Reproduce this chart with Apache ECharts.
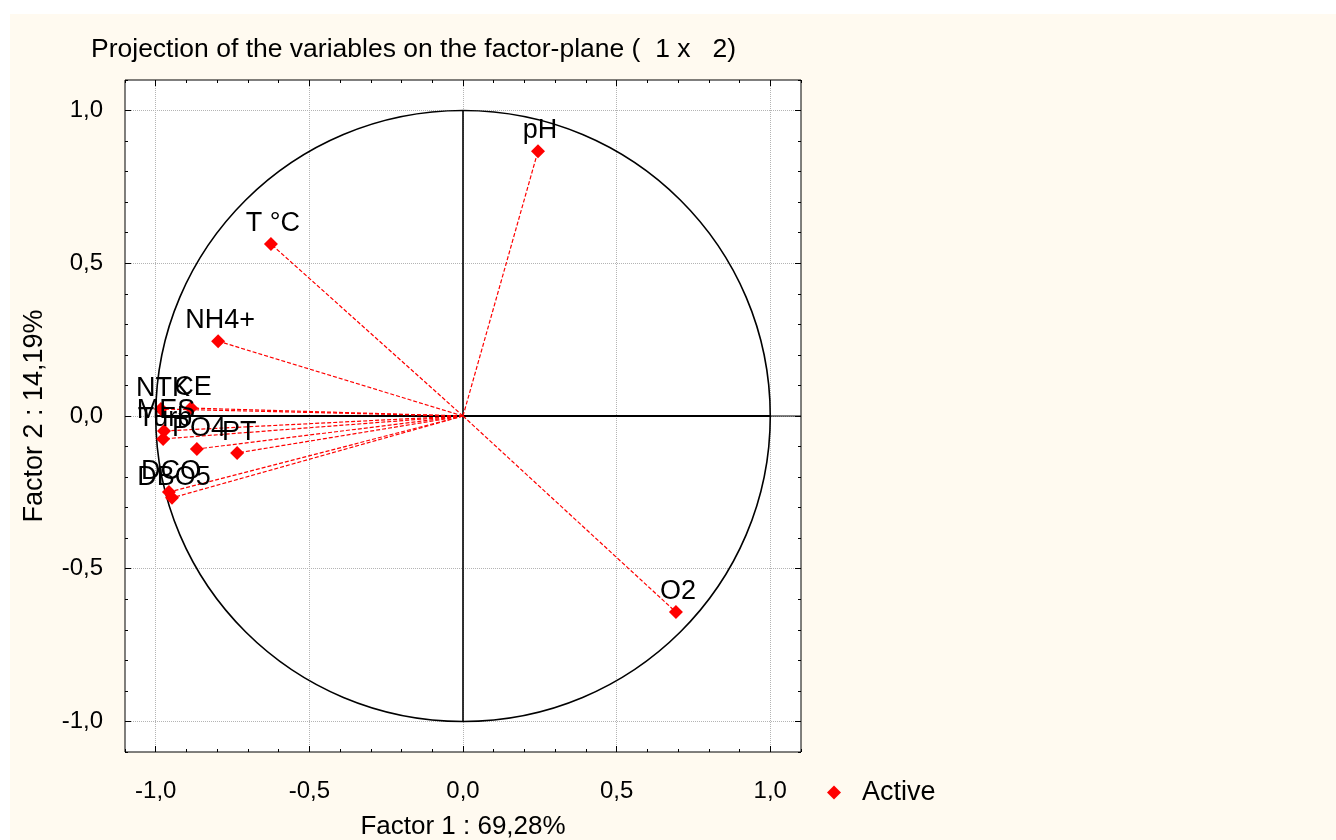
<!DOCTYPE html>
<html>
<head>
<meta charset="utf-8">
<script src="https://cdn.jsdelivr.net/npm/echarts@6/dist/echarts.min.js"></script>
<style>
  html, body { margin: 0; padding: 0; background: #ffffff; }
  #bg { position: absolute; left: 10px; top: 14px; width: 1326px; height: 826px; background: #fffaf0; }
  #chart { position: absolute; left: 0; top: 0; width: 1336px; height: 840px; }
</style>
</head>
<body>
<div id="bg"></div>
<div id="chart"></div>
<script>
// ---- data ----
const variables = ['pH', 'T °C', 'NH4+', 'NTK', 'CE', 'MES', 'Turb', 'PO4', 'PT', 'DCO', 'DBO5', 'O2'];
const factor1 =   [0.244, -0.625, -0.797, -0.983, -0.885, -0.973, -0.976, -0.866, -0.735, -0.957, -0.947, 0.693];
const factor2 =   [0.867,  0.563,  0.245,  0.023,  0.026, -0.049, -0.075, -0.108, -0.121, -0.249, -0.268, -0.642];
const majorTicks = [-1.0, -0.5, 0.0, 0.5, 1.0];
const axisMin = -1.1, axisMax = 1.1, minorStep = 0.1;
const titleText = 'Projection of the variables on the factor-plane (  1 x   2)';
const xName = 'Factor 1 : 69,28%';
const yName = 'Factor 2 : 14,19%';
const legendName = 'Active';

const FONT = 'Arial, "Liberation Sans", sans-serif';
const fmt = v => v.toFixed(1).replace('.', ',');

function minorAxis(pos) {
  return {
    type: 'value', position: pos, min: axisMin, max: axisMax, interval: minorStep,
    axisLine: { show: false, onZero: false },
    axisTick: { show: true, inside: true, length: 3, lineStyle: { color: '#000', width: 1 } },
    axisLabel: { show: false },
    splitLine: { show: false }
  };
}
function majorAxis(pos, withLabels, extra) {
  return Object.assign({
    type: 'value', position: pos, min: axisMin, max: axisMax,
    axisLine: { show: false, onZero: false },
    axisTick: { show: true, inside: true, length: 6, customValues: majorTicks, lineStyle: { color: '#000', width: 1 } },
    axisLabel: { show: false },
    splitLine: withLabels ? { show: true, lineStyle: { type: 'dotted', color: '#b4b4b4', width: 1 } } : { show: false }
  }, extra || {});
}

const points = variables.map((n, i) => ({ name: n, value: [factor1[i], factor2[i]] }));
const vectors = variables.map((n, i) => ({ coords: [[0, 0], [factor1[i], factor2[i]]] }));

const chart = echarts.init(document.getElementById('chart'), null, { renderer: 'canvas' });
chart.setOption({
  backgroundColor: 'transparent',
  animation: false,
  textStyle: { fontFamily: FONT },
  title: {
    text: titleText, left: 86, top: 31,
    textStyle: { fontSize: 26.5, fontWeight: 'normal', color: '#000', fontFamily: FONT }
  },
  grid: {
    left: 125, top: 80, width: 676, height: 672,
    outerBoundsMode: 'none', containLabel: false,
    show: true, backgroundColor: '#ffffff', borderColor: '#000', borderWidth: 1
  },
  legend: {
    data: [legendName], left: 822, top: 774,
    itemWidth: 14, itemHeight: 14,
    textStyle: { fontSize: 27, color: '#000', fontFamily: FONT, padding: [0, 0, 0, 16] }
  },
  xAxis: [
    majorAxis('bottom', true, {
      name: xName, nameLocation: 'middle', nameGap: 62,
      nameTextStyle: { fontSize: 26, color: '#000', fontFamily: FONT },
      axisLabel: { show: true, customValues: majorTicks, formatter: fmt, fontSize: 24, fontFamily: FONT, color: '#000', margin: 27 }
    }),
    minorAxis('bottom'),
    majorAxis('top', false),
    minorAxis('top')
  ],
  yAxis: [
    majorAxis('left', true, {
      name: yName, nameLocation: 'middle', nameGap: 77, nameRotate: 90,
      nameTextStyle: { fontSize: 27, color: '#000', fontFamily: FONT },
      axisLabel: { show: true, customValues: majorTicks, formatter: fmt, fontSize: 24, fontFamily: FONT, color: '#000', margin: 22 }
    }),
    minorAxis('left'),
    majorAxis('right', false),
    minorAxis('right')
  ],
  series: [
    {
      type: 'custom', name: 'circle', xAxisIndex: 0, yAxisIndex: 0, silent: true, z: 1, clip: false,
      data: [[0, 0]],
      renderItem: function (params, api) {
        const c = api.coord([0, 0]);
        const r = api.coord([1, 0]);
        const t = api.coord([0, 1]);
        const b = api.coord([0, -1]);
        const l = api.coord([-1, 0]);
        const e = api.coord([axisMax, 0]);
        return {
          type: 'group',
          children: [
            { type: 'ellipse', shape: { cx: c[0], cy: c[1], rx: r[0] - c[0], ry: c[1] - t[1] },
              style: { fill: null, stroke: '#000', lineWidth: 1.6 } },
            { type: 'line', shape: { x1: t[0], y1: t[1], x2: b[0], y2: b[1] }, style: { stroke: '#000', lineWidth: 1.6 } },
            { type: 'line', shape: { x1: l[0], y1: l[1], x2: r[0], y2: r[1] }, style: { stroke: '#000', lineWidth: 2 } },
            { type: 'line', shape: { x1: r[0], y1: r[1], x2: e[0], y2: e[1] }, style: { stroke: '#000', lineWidth: 1 } }
          ]
        };
      }
    },
    {
      type: 'lines', name: 'vectors', coordinateSystem: 'cartesian2d', xAxisIndex: 0, yAxisIndex: 0,
      silent: true, z: 2, symbol: 'none',
      lineStyle: { color: '#ff0000', width: 1.2, type: [4, 2], opacity: 1 },
      data: vectors
    },
    {
      type: 'scatter', name: legendName, xAxisIndex: 0, yAxisIndex: 0, z: 3,
      symbol: 'diamond', symbolSize: 14,
      itemStyle: { color: '#ff0000', opacity: 1 },
      label: {
        show: true, position: 'top', distance: 0, offset: [2, 0],
        formatter: p => p.name, fontSize: 27, color: '#000', fontFamily: FONT,
        textBorderWidth: 0, textBorderColor: 'transparent', opacity: 1
      },
      data: points
    }
  ]
});
</script>
</body>
</html>
